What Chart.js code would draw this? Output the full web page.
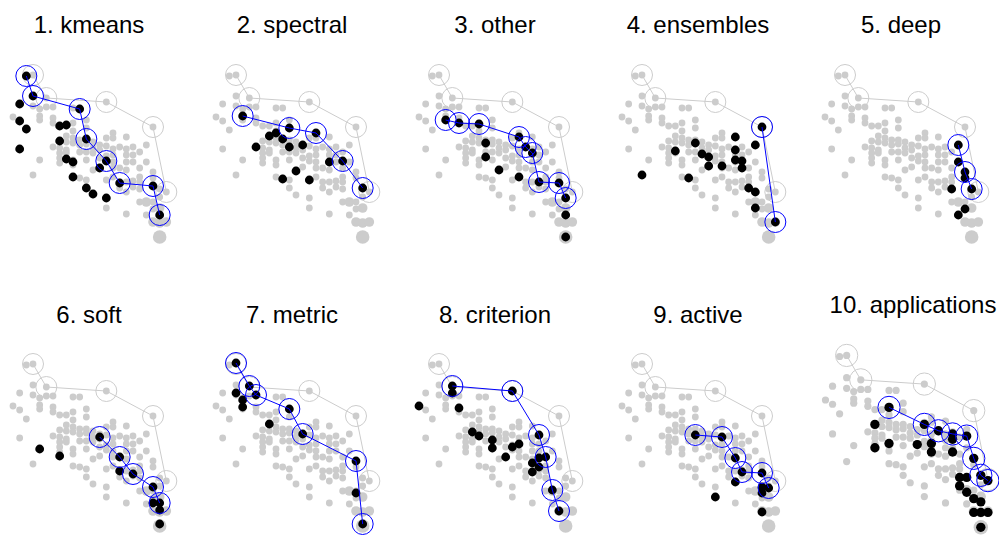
<!DOCTYPE html>
<html>
<head>
<meta charset="utf-8">
<script src="https://cdn.jsdelivr.net/npm/chart.js@4.4.0/dist/chart.umd.min.js"></script>
<style>
  body { margin: 0; width: 999px; height: 536px; overflow: hidden; background: #fff; position: relative;
         font-family: "Liberation Sans", Arial, sans-serif; }
  canvas { position: absolute; }
  .title { position: absolute; font-size: 24px; line-height: 24px; white-space: nowrap;
           transform: translateX(-50%); color: #000; }
</style>
</head>
<body>
<script>
// all papers: [x, y, count]
const allPoints = [
  [2,179,1],[3,180,1],[3,159,1],[5,157,1],[1,151,1],[3,149,1],[5,148,1],[6,148,1],[4,146,1],[9,147,1],
  [10,147,1],[14,153,1],[0,138,1],[4,139,1],[4,135,1],[6,137,1],[1,134,1],[6,132,1],[11,135,1],[7,129,1],
  [8,129,1],[9,132,1],[2,125,1],[9,124,1],[11,127,1],[21,128,1],[8,119,1],[15,122,1],[14,117,1],[15,117,1],
  [17,118,1],[9,117,1],[6,108,1],[7,114,1],[8,113,1],[9,112,1],[10,115,1],[11,115,1],[10,110,1],[11,111,1],
  [12,113,1],[13,110,1],[14,109,1],[16,108,1],[1,106,1],[7,107,1],[8,105,1],[12,107,1],[13,105,1],[15,106,1],
  [17,106,1],[18,108,1],[7,102,1],[8,102,1],[10,103,1],[11,103,1],[12,102,1],[14,99,1],[15,100,1],[17,100,1],
  [18,100,1],[19,103,1],[4,95,1],[7,97,1],[9,95,1],[11,95,1],[13,97,1],[14,94,1],[15,93,1],[17,93,1],
  [18,93,1],[7,92,1],[9,90,1],[13,88,1],[12,85,1],[15,87,1],[16,87,1],[17,85,1],[19,87,1],[3,80,1],
  [9,78,1],[10,77,1],[11,75,1],[14,75,1],[15,78,1],[16,73,1],[17,73,1],[18,74,1],[19,78,1],[11,67,1],
  [16,67,1],[17,63,1],[18,68,1],[19,73,1],[12,60,1],[14,57,1],[19,53,1],[20,53,2],[21,53,1],[22,58,1],
  [14,47,1],[17,41,1],[22,47,2],[21,33,2],[22,32,2],[23,33,2],[22,18,4],[23,63,1],[20,110,1],[20,93,1],
  [21,83,1],[21,77,1],[22,66,1],[19,66,1],[21,46,1],[20,40,1]
];
const allFront = [[3,180],[5,157],[14,153],[21,128],[23,63]];

const categories = ["kmeans", "spectral", "other", "ensembles", "deep",
                    "soft", "metric", "criterion", "active", "applications"];

const kmeansPts = [[2,179],[3,159],[1,151],[10,146],[1,134],[2,126],[7,129],[8,130],[7,114],[11,116],[1,106],
  [8,96],[9,93],[13,87],[14,94],[9,78],[16,72],[11,67],[12,61],[14,57],[21,69],[22,40]];
const kmeansFront = [[2,179],[3,159],[10,146],[11,116],[14,94],[16,72],[21,69],[22,40]];

const spectralPts = [[4,139],[11,127],[15,122],[8,119],[9,122],[10,116],[6,108],[11,108],[13,110],[17,93],
  [19,94],[12,84],[10,76],[14,75],[22,67]];
const spectralFront = [[4,139],[11,127],[15,122],[19,94],[22,67]];

const otherPts = [[4,135],[6,132],[9,131],[10,112],[10,98],[12,85],[15,78],[15,118],[16,108],[17,102],
  [18,73],[21,72],[22,57],[22,40],[22,18]];
const otherFront = [[4,135],[6,132],[9,131],[15,118],[16,108],[17,102],[18,73],[21,72],[22,57]];

const ensemblesPts = [[21,128],[17,118],[20,110],[11,112],[8,104],[12,101],[13,98],[13,89],[15,89],[17,105],
  [17,95],[18,94],[18,87],[3,80],[10,77],[19,67],[20,63],[20,47],[23,33]];
const ensemblesFront = [[21,128],[23,33]];

const deepPts = [[20,110],[20,93],[21,83],[21,77],[22,66],[19,66],[21,46],[20,40]];
const deepFront = [[20,110],[21,83],[22,66]];

const softPts = [[13,107],[4,95],[7,88],[16,87],[16,73],[18,70],[21,57],[21,41],[22,41],[22,34],[22,20]];
const softFront = [[13,107],[16,87],[18,70],[21,57],[22,41]];

const metricPts = [[3,181],[5,158],[6,149],[3,151],[4,144],[4,137],[8,120],[11,135],[13,110],[21,83],[21,51],[22,20]];
const metricFront = [[3,181],[5,158],[6,149],[11,135],[13,110],[21,83],[22,20]];

const criterionPts = [[5,158],[5,151],[0,138],[6,136],[14,153],[8,112],[9,108],[11,104],[11,96],[13,87],
  [14,97],[15,100],[18,109],[18,86],[19,87],[17,81],[17,72],[18,77],[20,54],[21,33]];
const criterionFront = [[5,158],[14,153],[18,109],[19,87],[20,54],[21,33]];

const activePts = [[11,109],[15,107],[17,86],[18,72],[17,62],[21,71],[21,57],[22,56],[21,51],[14,47],[21,32]];
const activeFront = [[11,109],[15,107],[17,86],[18,72],[21,71],[22,56]];

const applicationsPts = [[9,131],[7,115],[9,97],[7,93],[14,115],[16,109],[13,96],[15,97],[15,89],[18,106],
  [18,101],[20,104],[18,89],[21,83],[19,65],[20,65],[22,67],[23,62],[20,51],[21,45],[22,42],[21,32],
  [22,32],[23,32],[22,18],[19,57]];
const applicationsFront = [[9,131],[14,115],[16,109],[18,106],[20,104],[21,83],[22,67],[23,62]];

const catPoints = [kmeansPts, spectralPts, otherPts, ensemblesPts, deepPts,
                   softPts, metricPts, criterionPts, activePts, applicationsPts];
const catFronts = [kmeansFront, spectralFront, otherFront, ensemblesFront, deepFront,
                   softFront, metricFront, criterionFront, activeFront, applicationsFront];

const toXY = arr => arr.map(p => ({ x: p[0], y: p[1], n: p[2] || 1 }));

function makePanel(i) {
    let col = i % 5, row = Math.floor(i / 5);
    let s = 1, ox = col * 203 - 12, oy = row === 0 ? 55 : 344;
    let titleX = col * 203 + 89, titleBase = row === 0 ? 33 : 323;
    if (i === 9) { s = 1.06; ox = 799.3; oy = 333.8; titleX = 913; titleBase = 313; }

    let title = document.createElement("div");
    title.className = "title";
    title.textContent = (i + 1) + ". " + categories[i];
    title.style.left = titleX + "px";
    title.style.top = (titleBase - 20) + "px";
    document.body.appendChild(title);

    let canvas = document.createElement("canvas");
    let w = Math.round(203 * s), h = Math.round(230 * s);
    canvas.width = w; canvas.height = h;
    canvas.style.left = ox + "px";
    canvas.style.top = (oy - 20 * s) + "px";
    canvas.style.width = w + "px"; canvas.style.height = h + "px";
    document.body.appendChild(canvas);

    new Chart(canvas.getContext("2d"), {
        type: "scatter",
        data: {
            datasets: [
                {
                    data: toXY(catFronts[i]),
                    showLine: true,
                    borderColor: "#0000ff",
                    borderWidth: 1,
                    pointRadius: 10.5 * s,
                    pointBorderColor: "#0000ff",
                    pointBackgroundColor: "rgba(0,0,0,0)",
                    pointBorderWidth: 1
                },
                {
                    data: toXY(catPoints[i]),
                    pointRadius: 4.4 * s,
                    pointBackgroundColor: "#000000",
                    pointBorderWidth: 0
                },
                {
                    data: toXY(allFront),
                    showLine: true,
                    borderColor: "#cccccc",
                    borderWidth: 1,
                    pointRadius: 10.5 * s,
                    pointBorderColor: "#cccccc",
                    pointBackgroundColor: "rgba(0,0,0,0)",
                    pointBorderWidth: 1
                },
                {
                    data: toXY(allPoints),
                    pointRadius: ctx => 3.4 * s * Math.sqrt(ctx.raw ? ctx.raw.n : 1),
                    pointBackgroundColor: "#cccccc",
                    pointBorderWidth: 0
                }
            ]
        },
        options: {
            responsive: false,
            animation: false,
            events: [],
            layout: { padding: 0, autoPadding: false },
            plugins: { legend: { display: false }, tooltip: { enabled: false } },
            scales: {
                x: { type: "linear", display: false, min: -3.75, max: 26.7 },
                y: { type: "linear", display: false, min: -10, max: 220 }
            }
        }
    });
}

for (let i = 0; i < categories.length; i++) makePanel(i);
</script>
</body>
</html>
